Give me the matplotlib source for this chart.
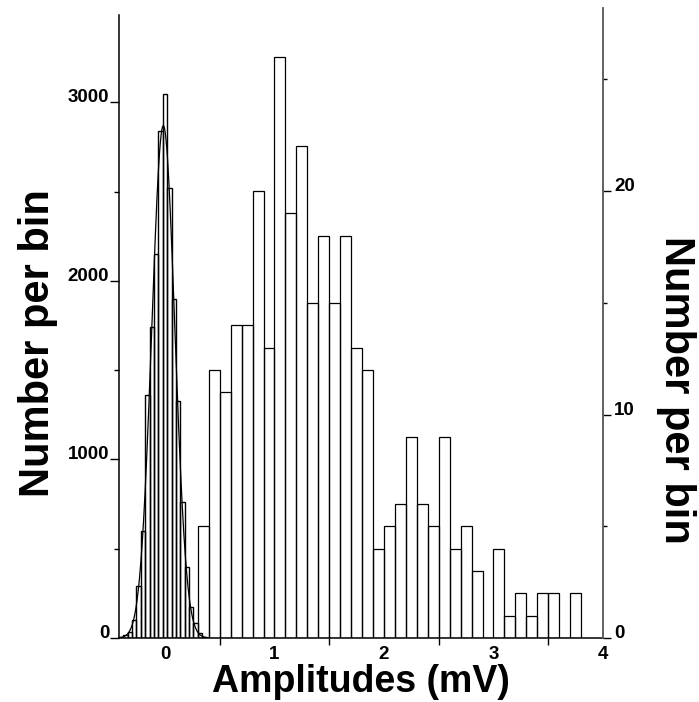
import numpy as np
import matplotlib.pyplot as plt
from matplotlib.ticker import FixedLocator

plt.rcParams['font.family'] = ['Liberation Sans', 'DejaVu Sans']
plt.rcParams['font.weight'] = 'bold'

# Noise histogram (left axis), bin centres in mV
noise_centers = [-0.40, -0.36, -0.32, -0.28, -0.24, -0.20, -0.16, -0.12, -0.08, -0.04,
                 0.00, 0.04, 0.08, 0.12, 0.16, 0.20, 0.24, 0.28, 0.32, 0.36]
noise_counts = [8, 15, 35, 100, 290, 600, 1360, 1740, 2150, 2840,
                3050, 2520, 1900, 1325, 760, 400, 176, 84, 28, 8]
noise_width = 0.04

# Gaussian fit to the noise
fit_amp = 2870
fit_mean = -0.015
fit_sigma = 0.105

# Evoked amplitudes histogram (right axis), left bin edges in mV
evoked_edges = [0.3, 0.4, 0.5, 0.6, 0.7, 0.8, 0.9, 1.0, 1.1, 1.2, 1.3, 1.4, 1.5, 1.6, 1.7,
                1.8, 1.9, 2.0, 2.1, 2.2, 2.3, 2.4, 2.5, 2.6, 2.7, 2.8, 2.9, 3.0, 3.1, 3.2,
                3.3, 3.4, 3.5, 3.6, 3.7]
evoked_counts = [5, 12, 11, 14, 14, 20, 13, 26, 19, 22, 15, 18, 15, 18, 13,
                 12, 4, 5, 6, 9, 6, 5, 9, 4, 5, 3, 0, 4, 1, 2,
                 1, 2, 2, 0, 2]
evoked_width = 0.1

x_labels = ['0', '1', '2', '3', '4']
x_label_pos = [0, 1, 2, 3, 4]
x_minor = [0.5, 1.5, 2.5, 3.5]

fig = plt.figure(figsize=(6.99, 7.02), dpi=100)
ax1 = fig.add_axes([0.1702, 0.0912, 0.6924, 0.8875])
ax2 = fig.add_axes([0.1702, 0.0912, 0.6924, 0.8975], sharex=ax1)
ax2.patch.set_visible(False)

ax1.bar(noise_centers, noise_counts, width=noise_width, fill=False,
        edgecolor='black', linewidth=1.0)
xs = np.linspace(-0.42, 0.40, 400)
ax1.plot(xs, fit_amp * np.exp(-(xs - fit_mean) ** 2 / (2 * fit_sigma ** 2)),
         color='black', linewidth=0.9)

ax2.bar(evoked_edges, evoked_counts, width=evoked_width, align='edge', fill=False,
        edgecolor='black', linewidth=0.9)

ax1.set_xlim(-0.42, 4.0)
ax1.set_ylim(0, 3490)
ax2.set_ylim(0, 28.2)

# left axis
for s in ['top', 'right']:
    ax1.spines[s].set_visible(False)
ax1.spines['left'].set_linewidth(1.1)
ax1.spines['bottom'].set_linewidth(1.1)
ax1.set_yticks([0, 1000, 2000, 3000])
ax1.yaxis.set_minor_locator(FixedLocator([500, 1500, 2500]))
ax1.tick_params(axis='y', which='major', direction='out', length=6.5, width=1, pad=0.5, labelsize=13.5)
ax1.tick_params(axis='y', which='minor', direction='out', length=3.5, width=1)

ax1.set_xticks(x_label_pos)
ax1.set_xticklabels(x_labels)
ax1.xaxis.set_minor_locator(FixedLocator(x_minor))
ax1.tick_params(axis='x', which='major', length=0, pad=5.5, labelsize=13.5)
ax1.tick_params(axis='x', which='minor', direction='out', length=5, width=1)

# right axis
for s in ['top', 'left', 'bottom']:
    ax2.spines[s].set_visible(False)
ax2.spines['right'].set_color('#555555')
ax2.spines['right'].set_linewidth(1.3)
ax2.yaxis.tick_right()
ax2.set_yticks([0, 10, 20])
ax2.yaxis.set_minor_locator(FixedLocator([5, 15, 25]))
ax2.tick_params(axis='y', which='major', direction='out', length=6, width=1, pad=2, labelsize=13.5)
ax2.tick_params(axis='y', which='minor', direction='out', length=3, width=1)
ax2.tick_params(axis='x', which='both', bottom=False, labelbottom=False)

for lab in ax1.get_yticklabels() + ax2.get_yticklabels():
    lab.set_verticalalignment('baseline')

fig.text(0.055, 0.512, 'Number per bin', rotation=90, fontsize=30,
         ha='center', va='center')
fig.text(0.9670, 0.444, 'Number per bin', rotation=270, fontsize=30,
         ha='center', va='center')
fig.text(0.5165, 0.0285, 'Amplitudes (mV)', fontsize=27, ha='center', va='center')

fig.savefig('out.png', dpi=100)
